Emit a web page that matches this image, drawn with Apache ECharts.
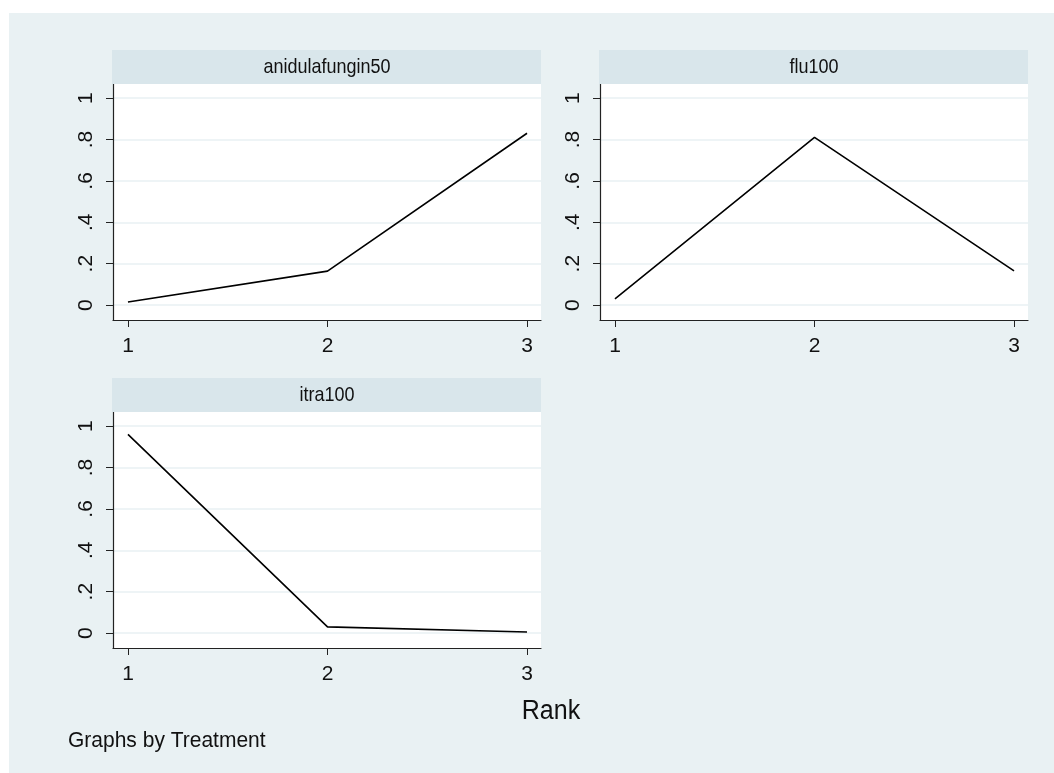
<!DOCTYPE html>
<html>
<head>
<meta charset="utf-8">
<style>
  html, body { margin: 0; padding: 0; background: #ffffff; }
  #chart { width: 1054px; height: 773px; }
</style>
<script src="https://cdn.jsdelivr.net/npm/echarts@6/dist/echarts.min.js"></script>
</head>
<body>
<div id="chart"></div>
<script>
// Rank probabilities by treatment
const ranks = [1, 2, 3];
const treatments = ['anidulafungin50', 'flu100', 'itra100'];
const anidulafungin50 = [0.015, 0.164, 0.83];
const flu100 = [0.03, 0.81, 0.165];
const itra100 = [0.96, 0.03, 0.005];
const yTicks = [0, 0.2, 0.4, 0.6, 0.8, 1];
const xTitle = 'Rank';
const note = 'Graphs by Treatment';

const seriesValues = [anidulafungin50, flu100, itra100];

// panel boxes (plot area) and header strip height
const panels = [
  { left: 113, top: 84, width: 428, height: 236 },
  { left: 600, top: 84, width: 428, height: 236 },
  { left: 113, top: 412, width: 428, height: 236 }
];
const stripH = 34;

const FONT = '"Liberation Sans", Arial, sans-serif';
const bg = '#e9f1f3';
const stripColor = '#d9e6eb';
const gridColor = '#e9f1f3';

function yLabel(v) {
  if (v === 0) return '0';
  if (v === 1) return '1';
  return String(v).replace(/^0/, '');
}

const grids = [], xAxes = [], yAxes = [], series = [], graphics = [];

// outer background
graphics.push({
  type: 'rect', silent: true, z: -10,
  shape: { x: 9, y: 13, width: 1045, height: 760 },
  style: { fill: bg }
});

panels.forEach((p, i) => {
  grids.push({
    left: p.left, top: p.top, width: p.width, height: p.height,
    show: true, backgroundColor: '#ffffff', borderWidth: 0, containLabel: false
  });
  xAxes.push({
    type: 'value', gridIndex: i, min: 0.925, max: 3.07,
    axisLine: { show: true, onZero: false, lineStyle: { color: '#222', width: 1.2 } },
    axisTick: { show: true, length: 7, customValues: ranks, lineStyle: { color: '#222', width: 1 } },
    axisLabel: { customValues: ranks, margin: 16, fontSize: 21, color: '#111', fontFamily: FONT },
    splitLine: { show: false }
  });
  yAxes.push({
    type: 'value', gridIndex: i, min: -0.072, max: 1.068,
    axisLine: { show: true, onZero: false, lineStyle: { color: '#222', width: 1.2 } },
    axisTick: { show: true, length: 7, customValues: yTicks, lineStyle: { color: '#222', width: 1 } },
    axisLabel: {
      customValues: yTicks, rotate: 90, margin: 16, fontSize: 21, color: '#111',
      fontFamily: FONT, formatter: yLabel
    },
    splitLine: { show: true, lineStyle: { color: gridColor, width: 1.5 } }
  });
  series.push({
    type: 'line', xAxisIndex: i, yAxisIndex: i,
    data: ranks.map((r, k) => [r, seriesValues[i][k]]),
    symbol: 'none', lineStyle: { color: '#000', width: 1.6 }, silent: true
  });
  // header strip with treatment name
  graphics.push({
    type: 'rect', silent: true, z: 1,
    shape: { x: p.left - 1, y: p.top - stripH, width: p.width + 1, height: stripH },
    style: { fill: stripColor }
  });
  graphics.push({
    type: 'text', silent: true, z: 2,
    x: p.left + p.width / 2, y: p.top - stripH / 2, scaleY: 1.12,
    style: {
      text: treatments[i], fill: '#111', font: '18px ' + FONT,
      align: 'center', verticalAlign: 'middle'
    }
  });
});

graphics.push({
  type: 'text', silent: true, z: 2, x: 551, y: 712, scaleY: 1.08,
  style: { text: xTitle, fill: '#111', font: '25px ' + FONT, align: 'center', verticalAlign: 'middle' }
});
graphics.push({
  type: 'text', silent: true, z: 2, x: 68, y: 741, scaleY: 1.05,
  style: { text: note, fill: '#111', font: '21px ' + FONT, align: 'left', verticalAlign: 'middle' }
});

const chart = echarts.init(document.getElementById('chart'), null, { renderer: 'canvas' });
chart.setOption({
  backgroundColor: '#ffffff',
  animation: false,
  grid: grids,
  xAxis: xAxes,
  yAxis: yAxes,
  series: series,
  graphic: graphics
});
</script>
</body>
</html>
